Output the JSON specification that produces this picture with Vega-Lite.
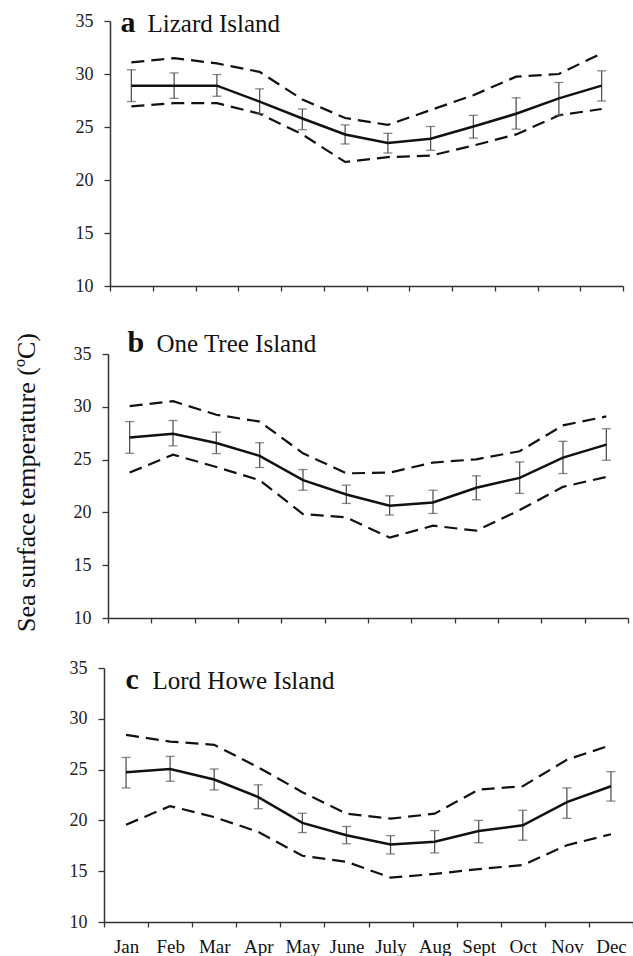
{
  "$schema": "https://vega.github.io/schema/vega-lite/v6.json",
  "padding": {"left": 12, "top": 7, "right": 0, "bottom": 0},
  "background": "white",
  "config": {
    "view": {"stroke": null},
    "font": "Liberation Serif",
    "axis": {"grid": false, "labelFont": "Liberation Serif", "titleFont": "Liberation Serif", "labelFontSize": 18, "labelColor": "#222", "domainColor": "#333", "tickColor": "#333", "titleColor": "#111", "labelFontWeight": "normal"}
  },
  "data": {"values": [
    {"p":"a","m":"Jan","mean":28.9,"lo":27.4,"hi":30.4,"up":31.1,"dn":26.95},
    {"p":"a","m":"Feb","mean":28.9,"lo":27.7,"hi":30.1,"up":31.5,"dn":27.25},
    {"p":"a","m":"Mar","mean":28.9,"lo":27.9,"hi":29.95,"up":31.0,"dn":27.25},
    {"p":"a","m":"Apr","mean":27.4,"lo":26.25,"hi":28.6,"up":30.2,"dn":26.25},
    {"p":"a","m":"May","mean":25.8,"lo":24.75,"hi":26.7,"up":27.6,"dn":24.3},
    {"p":"a","m":"June","mean":24.3,"lo":23.4,"hi":25.2,"up":25.85,"dn":21.7},
    {"p":"a","m":"July","mean":23.5,"lo":22.55,"hi":24.4,"up":25.2,"dn":22.15},
    {"p":"a","m":"Aug","mean":23.9,"lo":22.8,"hi":25.05,"up":26.6,"dn":22.3},
    {"p":"a","m":"Sept","mean":25.05,"lo":23.95,"hi":26.1,"up":28.0,"dn":23.25},
    {"p":"a","m":"Oct","mean":26.25,"lo":24.8,"hi":27.75,"up":29.75,"dn":24.3},
    {"p":"a","m":"Nov","mean":27.7,"lo":26.1,"hi":29.2,"up":30.0,"dn":26.1},
    {"p":"a","m":"Dec","mean":28.9,"lo":27.45,"hi":30.3,"up":31.95,"dn":26.7},
    {"p":"b","m":"Jan","mean":27.1,"lo":25.6,"hi":28.6,"up":30.06,"dn":23.77},
    {"p":"b","m":"Feb","mean":27.45,"lo":26.3,"hi":28.7,"up":30.53,"dn":25.47},
    {"p":"b","m":"Mar","mean":26.57,"lo":25.57,"hi":27.6,"up":29.25,"dn":24.3},
    {"p":"b","m":"Apr","mean":25.35,"lo":24.25,"hi":26.6,"up":28.6,"dn":23.05},
    {"p":"b","m":"May","mean":23.05,"lo":22.1,"hi":24.06,"up":25.6,"dn":19.84},
    {"p":"b","m":"June","mean":21.7,"lo":20.85,"hi":22.58,"up":23.7,"dn":19.53},
    {"p":"b","m":"July","mean":20.63,"lo":19.75,"hi":21.57,"up":23.77,"dn":17.61},
    {"p":"b","m":"Aug","mean":20.94,"lo":19.9,"hi":22.1,"up":24.72,"dn":18.74},
    {"p":"b","m":"Sept","mean":22.33,"lo":21.2,"hi":23.46,"up":25.03,"dn":18.27},
    {"p":"b","m":"Oct","mean":23.27,"lo":21.8,"hi":24.78,"up":25.79,"dn":20.22},
    {"p":"b","m":"Nov","mean":25.19,"lo":23.68,"hi":26.73,"up":28.24,"dn":22.42},
    {"p":"b","m":"Dec","mean":26.42,"lo":24.94,"hi":27.92,"up":29.09,"dn":23.36},
    {"p":"c","m":"Jan","mean":24.73,"lo":23.2,"hi":26.2,"up":28.42,"dn":19.58},
    {"p":"c","m":"Feb","mean":25.06,"lo":23.85,"hi":26.3,"up":27.76,"dn":21.41},
    {"p":"c","m":"Mar","mean":24.02,"lo":23.0,"hi":25.06,"up":27.44,"dn":20.33},
    {"p":"c","m":"Apr","mean":22.29,"lo":21.15,"hi":23.5,"up":25.22,"dn":18.87},
    {"p":"c","m":"May","mean":19.75,"lo":18.8,"hi":20.7,"up":22.78,"dn":16.52},
    {"p":"c","m":"June","mean":18.54,"lo":17.7,"hi":19.4,"up":20.66,"dn":15.93},
    {"p":"c","m":"July","mean":17.63,"lo":16.7,"hi":18.5,"up":20.17,"dn":14.37},
    {"p":"c","m":"Aug","mean":17.89,"lo":16.8,"hi":19.0,"up":20.66,"dn":14.73},
    {"p":"c","m":"Sept","mean":18.96,"lo":17.8,"hi":20.0,"up":23.04,"dn":15.21},
    {"p":"c","m":"Oct","mean":19.52,"lo":18.05,"hi":21.0,"up":23.36,"dn":15.6},
    {"p":"c","m":"Nov","mean":21.8,"lo":20.2,"hi":23.2,"up":25.97,"dn":17.56},
    {"p":"c","m":"Dec","mean":23.36,"lo":21.9,"hi":24.8,"up":27.41,"dn":18.64}
  ]},
  "spacing": 50,
  "bounds": "flush",
  "vconcat": [
    {
      "width": 519, "height": 265,
      "transform": [{"filter": "datum.p === 'a'"}],
      "layer": [
        {"mark": {"type": "line", "strokeDash": [13, 7], "strokeWidth": 2.2, "color": "#111"},
         "encoding": {
           "x": {"field": "m", "type": "ordinal", "sort": ["Jan","Feb","Mar","Apr","May","June","July","Aug","Sept","Oct","Nov","Dec"], "bandPosition": 0.5, "scale": {"type": "band", "paddingInner": 0, "paddingOuter": 0, "range": [6, 519]}, "axis": {"orient": "bottom", "title": null, "labels": false, "tickBand": "extent", "tickSize": 5, "tickWidth": 1.3, "domainWidth": 1.5}},
           "y": {"field": "up", "type": "quantitative", "scale": {"domain": [10, 35], "nice": false, "zero": false}, "axis": {"orient": "left", "offset": -6, "values": [10,15,20,25,30,35], "title": null, "labelFont": "Liberation Serif", "labelFontSize": 18, "tickSize": 6, "tickWidth": 1.3, "domainWidth": 1.5, "labelPadding": 11}}
         }},
        {"mark": {"type": "line", "strokeDash": [13, 7], "strokeWidth": 2.2, "color": "#111"},
         "encoding": {
           "x": {"field": "m", "type": "ordinal", "sort": ["Jan","Feb","Mar","Apr","May","June","July","Aug","Sept","Oct","Nov","Dec"], "bandPosition": 0.5, "scale": {"type": "band", "paddingInner": 0, "paddingOuter": 0, "range": [6, 519]}, "axis": {"orient": "top", "domain": false, "ticks": false, "labels": false, "title": "Lizard Island", "titleFont": "Liberation Serif", "titleFontSize": 25, "titleFontWeight": "normal", "titleX": 43, "titleY": 10, "titleAlign": "left", "titleBaseline": "alphabetic"}},
           "y": {"field": "dn", "type": "quantitative", "scale": {"domain": [10, 35], "nice": false, "zero": false}, "axis": {"orient": "right", "domain": false, "ticks": false, "labels": false, "title": "a", "titleFont": "Liberation Serif", "titleAngle": 0, "titleFontWeight": "bold", "titleFontSize": 30, "titleX": -503, "titleY": 10, "titleAlign": "left", "titleBaseline": "alphabetic"}}
         }},
        {"mark": {"type": "rule", "color": "#555", "strokeWidth": 1.3},
         "encoding": {
           "x": {"field": "m", "type": "ordinal", "sort": ["Jan","Feb","Mar","Apr","May","June","July","Aug","Sept","Oct","Nov","Dec"], "bandPosition": 0.5, "scale": {"type": "band", "paddingInner": 0, "paddingOuter": 0, "range": [6, 519]}, "axis": null},
           "y": {"field": "lo", "type": "quantitative", "scale": {"domain": [10, 35], "nice": false, "zero": false}, "axis": null},
           "y2": {"field": "hi"}
         }},
        {"mark": {"type": "tick", "color": "#555", "size": 9, "thickness": 1.3},
         "encoding": {
           "x": {"field": "m", "type": "ordinal", "sort": ["Jan","Feb","Mar","Apr","May","June","July","Aug","Sept","Oct","Nov","Dec"], "bandPosition": 0.5, "scale": {"type": "band", "paddingInner": 0, "paddingOuter": 0, "range": [6, 519]}, "axis": null},
           "y": {"field": "lo", "type": "quantitative", "scale": {"domain": [10, 35], "nice": false, "zero": false}, "axis": null}
         }},
        {"mark": {"type": "tick", "color": "#555", "size": 9, "thickness": 1.3},
         "encoding": {
           "x": {"field": "m", "type": "ordinal", "sort": ["Jan","Feb","Mar","Apr","May","June","July","Aug","Sept","Oct","Nov","Dec"], "bandPosition": 0.5, "scale": {"type": "band", "paddingInner": 0, "paddingOuter": 0, "range": [6, 519]}, "axis": null},
           "y": {"field": "hi", "type": "quantitative", "scale": {"domain": [10, 35], "nice": false, "zero": false}, "axis": null}
         }},
        {"mark": {"type": "line", "strokeWidth": 2.5, "color": "#111"},
         "encoding": {
           "x": {"field": "m", "type": "ordinal", "sort": ["Jan","Feb","Mar","Apr","May","June","July","Aug","Sept","Oct","Nov","Dec"], "bandPosition": 0.5, "scale": {"type": "band", "paddingInner": 0, "paddingOuter": 0, "range": [6, 519]}, "axis": null},
           "y": {"field": "mean", "type": "quantitative", "scale": {"domain": [10, 35], "nice": false, "zero": false}, "axis": null}
         }}
      ],
      "resolve": {"axis": {"x": "independent", "y": "independent"}}
    },
    {
      "width": 524, "height": 282,
      "transform": [{"filter": "datum.p === 'b'"}],
      "layer": [
        {"mark": {"type": "line", "strokeDash": [13, 7], "strokeWidth": 2.2, "color": "#111"},
         "encoding": {
           "x": {"field": "m", "type": "ordinal", "sort": ["Jan","Feb","Mar","Apr","May","June","July","Aug","Sept","Oct","Nov","Dec"], "bandPosition": 0.5, "scale": {"type": "band", "paddingInner": 0, "paddingOuter": 0, "range": [4, 524]}, "axis": {"orient": "bottom", "title": null, "labels": false, "tickBand": "extent", "tickSize": 5, "tickWidth": 1.3, "domainWidth": 1.5}},
           "y": {"field": "up", "type": "quantitative", "scale": {"domain": [10, 35], "nice": false, "zero": false, "range": [282, 18]}, "axis": {"orient": "left", "offset": -4, "values": [10,15,20,25,30,35], "labelFont": "Liberation Serif", "labelFontSize": 18, "title": "Sea surface temperature (ºC)", "titleFont": "Liberation Serif", "titleFontSize": 26, "titleFontWeight": "normal", "titleX": -74, "titleY": 146, "titleAngle": -90, "titleAlign": "center", "titleBaseline": "alphabetic", "tickSize": 6, "tickWidth": 1.3, "domainWidth": 1.5, "labelPadding": 11}}
         }},
        {"mark": {"type": "line", "strokeDash": [13, 7], "strokeWidth": 2.2, "color": "#111"},
         "encoding": {
           "x": {"field": "m", "type": "ordinal", "sort": ["Jan","Feb","Mar","Apr","May","June","July","Aug","Sept","Oct","Nov","Dec"], "bandPosition": 0.5, "scale": {"type": "band", "paddingInner": 0, "paddingOuter": 0, "range": [4, 524]}, "axis": {"orient": "top", "domain": false, "ticks": false, "labels": false, "title": "One Tree Island", "titleFont": "Liberation Serif", "titleFontSize": 25, "titleFontWeight": "normal", "titleX": 52, "titleY": 15, "titleAlign": "left", "titleBaseline": "alphabetic"}},
           "y": {"field": "dn", "type": "quantitative", "scale": {"domain": [10, 35], "nice": false, "zero": false, "range": [282, 18]}, "axis": {"orient": "right", "domain": false, "ticks": false, "labels": false, "title": "b", "titleFont": "Liberation Serif", "titleAngle": 0, "titleFontWeight": "bold", "titleFontSize": 30, "titleX": -501, "titleY": 15, "titleAlign": "left", "titleBaseline": "alphabetic"}}
         }},
        {"mark": {"type": "rule", "color": "#555", "strokeWidth": 1.3},
         "encoding": {
           "x": {"field": "m", "type": "ordinal", "sort": ["Jan","Feb","Mar","Apr","May","June","July","Aug","Sept","Oct","Nov","Dec"], "bandPosition": 0.5, "scale": {"type": "band", "paddingInner": 0, "paddingOuter": 0, "range": [4, 524]}, "axis": null},
           "y": {"field": "lo", "type": "quantitative", "scale": {"domain": [10, 35], "nice": false, "zero": false, "range": [282, 18]}, "axis": null},
           "y2": {"field": "hi"}
         }},
        {"mark": {"type": "tick", "color": "#555", "size": 9, "thickness": 1.3},
         "encoding": {
           "x": {"field": "m", "type": "ordinal", "sort": ["Jan","Feb","Mar","Apr","May","June","July","Aug","Sept","Oct","Nov","Dec"], "bandPosition": 0.5, "scale": {"type": "band", "paddingInner": 0, "paddingOuter": 0, "range": [4, 524]}, "axis": null},
           "y": {"field": "lo", "type": "quantitative", "scale": {"domain": [10, 35], "nice": false, "zero": false, "range": [282, 18]}, "axis": null}
         }},
        {"mark": {"type": "tick", "color": "#555", "size": 9, "thickness": 1.3},
         "encoding": {
           "x": {"field": "m", "type": "ordinal", "sort": ["Jan","Feb","Mar","Apr","May","June","July","Aug","Sept","Oct","Nov","Dec"], "bandPosition": 0.5, "scale": {"type": "band", "paddingInner": 0, "paddingOuter": 0, "range": [4, 524]}, "axis": null},
           "y": {"field": "hi", "type": "quantitative", "scale": {"domain": [10, 35], "nice": false, "zero": false, "range": [282, 18]}, "axis": null}
         }},
        {"mark": {"type": "line", "strokeWidth": 2.5, "color": "#111"},
         "encoding": {
           "x": {"field": "m", "type": "ordinal", "sort": ["Jan","Feb","Mar","Apr","May","June","July","Aug","Sept","Oct","Nov","Dec"], "bandPosition": 0.5, "scale": {"type": "band", "paddingInner": 0, "paddingOuter": 0, "range": [4, 524]}, "axis": null},
           "y": {"field": "mean", "type": "quantitative", "scale": {"domain": [10, 35], "nice": false, "zero": false, "range": [282, 18]}, "axis": null}
         }}
      ],
      "resolve": {"axis": {"x": "independent", "y": "independent"}}
    },
    {
      "width": 529, "height": 254,
      "transform": [{"filter": "datum.p === 'c'"}],
      "layer": [
        {"mark": {"type": "line", "strokeDash": [13, 7], "strokeWidth": 2.2, "color": "#111"},
         "encoding": {
           "x": {"field": "m", "type": "ordinal", "sort": ["Jan","Feb","Mar","Apr","May","June","July","Aug","Sept","Oct","Nov","Dec"], "bandPosition": 0.5, "scale": {"type": "band", "paddingInner": 0, "paddingOuter": 0}, "axis": {"orient": "bottom", "title": null, "labels": true, "labelFont": "Liberation Serif", "labelAngle": 0, "labelFontSize": 19, "labelColor": "#111", "labelPadding": 10, "tickBand": "extent", "tickSize": 5, "tickWidth": 1.3, "domainWidth": 1.5}},
           "y": {"field": "up", "type": "quantitative", "scale": {"domain": [10, 35], "nice": false, "zero": false}, "axis": {"orient": "left", "values": [10,15,20,25,30,35], "title": null, "labelFont": "Liberation Serif", "labelFontSize": 18, "tickSize": 6, "tickWidth": 1.3, "domainWidth": 1.5, "labelPadding": 11}}
         }},
        {"mark": {"type": "line", "strokeDash": [13, 7], "strokeWidth": 2.2, "color": "#111"},
         "encoding": {
           "x": {"field": "m", "type": "ordinal", "sort": ["Jan","Feb","Mar","Apr","May","June","July","Aug","Sept","Oct","Nov","Dec"], "bandPosition": 0.5, "scale": {"type": "band", "paddingInner": 0, "paddingOuter": 0}, "axis": {"orient": "top", "domain": false, "ticks": false, "labels": false, "title": "Lord Howe Island", "titleFont": "Liberation Serif", "titleFontSize": 25, "titleFontWeight": "normal", "titleX": 48, "titleY": 20, "titleAlign": "left", "titleBaseline": "alphabetic"}},
           "y": {"field": "dn", "type": "quantitative", "scale": {"domain": [10, 35], "nice": false, "zero": false}, "axis": {"orient": "right", "domain": false, "ticks": false, "labels": false, "title": "c", "titleFont": "Liberation Serif", "titleAngle": 0, "titleFontWeight": "bold", "titleFontSize": 30, "titleX": -508, "titleY": 20, "titleAlign": "left", "titleBaseline": "alphabetic"}}
         }},
        {"mark": {"type": "rule", "color": "#555", "strokeWidth": 1.3},
         "encoding": {
           "x": {"field": "m", "type": "ordinal", "sort": ["Jan","Feb","Mar","Apr","May","June","July","Aug","Sept","Oct","Nov","Dec"], "bandPosition": 0.5, "scale": {"type": "band", "paddingInner": 0, "paddingOuter": 0}, "axis": null},
           "y": {"field": "lo", "type": "quantitative", "scale": {"domain": [10, 35], "nice": false, "zero": false}, "axis": null},
           "y2": {"field": "hi"}
         }},
        {"mark": {"type": "tick", "color": "#555", "size": 9, "thickness": 1.3},
         "encoding": {
           "x": {"field": "m", "type": "ordinal", "sort": ["Jan","Feb","Mar","Apr","May","June","July","Aug","Sept","Oct","Nov","Dec"], "bandPosition": 0.5, "scale": {"type": "band", "paddingInner": 0, "paddingOuter": 0}, "axis": null},
           "y": {"field": "lo", "type": "quantitative", "scale": {"domain": [10, 35], "nice": false, "zero": false}, "axis": null}
         }},
        {"mark": {"type": "tick", "color": "#555", "size": 9, "thickness": 1.3},
         "encoding": {
           "x": {"field": "m", "type": "ordinal", "sort": ["Jan","Feb","Mar","Apr","May","June","July","Aug","Sept","Oct","Nov","Dec"], "bandPosition": 0.5, "scale": {"type": "band", "paddingInner": 0, "paddingOuter": 0}, "axis": null},
           "y": {"field": "hi", "type": "quantitative", "scale": {"domain": [10, 35], "nice": false, "zero": false}, "axis": null}
         }},
        {"mark": {"type": "line", "strokeWidth": 2.5, "color": "#111"},
         "encoding": {
           "x": {"field": "m", "type": "ordinal", "sort": ["Jan","Feb","Mar","Apr","May","June","July","Aug","Sept","Oct","Nov","Dec"], "bandPosition": 0.5, "scale": {"type": "band", "paddingInner": 0, "paddingOuter": 0}, "axis": null},
           "y": {"field": "mean", "type": "quantitative", "scale": {"domain": [10, 35], "nice": false, "zero": false}, "axis": null}
         }}
      ],
      "resolve": {"axis": {"x": "independent", "y": "independent"}}
    }
  ]
}
